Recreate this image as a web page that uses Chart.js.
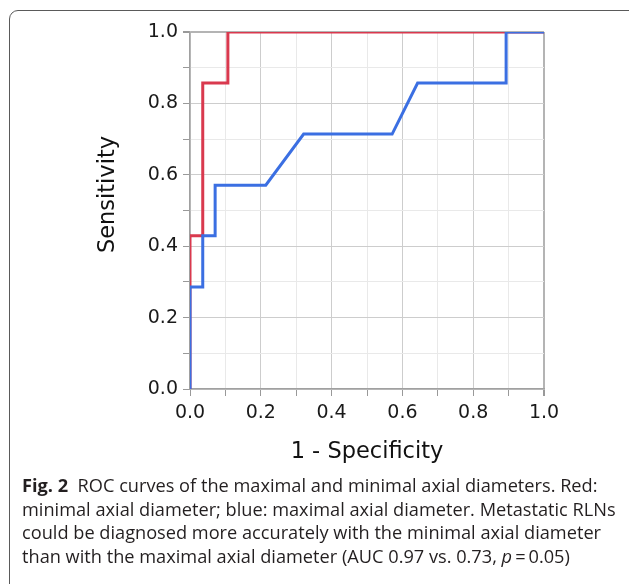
<!DOCTYPE html>
<html>
<head>
<meta charset="utf-8">
<script src="https://cdn.jsdelivr.net/npm/chart.js@4/dist/chart.umd.min.js"></script>
<style>
  html, body { margin: 0; padding: 0; background: #fff; }
  body { width: 629px; height: 584px; position: relative; overflow: hidden; }
  .frame {
    position: absolute; left: 9px; top: 10px; width: 660px; height: 620px;
    border: 1.3px solid #5a5a5a; border-radius: 9px; box-sizing: border-box;
  }
  #wrap { position: absolute; left: 0; top: 0; width: 629px; height: 480px; }
  .caption {
    position: absolute; left: 22px; top: 474px;
    font-family: 'Open Sans', sans-serif; font-size: 18.2px; line-height: 23.7px;
    color: #231f20; white-space: nowrap;
  }
  .caption b { font-weight: 700; }
  .caption .line { display: block; }
</style>
</head>
<body>
<div class="frame"></div>
<div id="wrap"><canvas id="roc"></canvas></div>
<div class="caption" id="cap">
  <span class="line"><b>Fig. 2</b>&nbsp;&nbsp;ROC curves of the maximal and minimal axial diameters. Red:</span>
  <span class="line">minimal axial diameter; blue: maximal axial diameter. Metastatic RLNs</span>
  <span class="line">could be diagnosed more accurately with the minimal axial diameter</span>
  <span class="line">than with the maximal axial diameter (AUC 0.97 vs. 0.73, <i>p</i>&thinsp;=&thinsp;0.05)</span>
</div>
<script>
// ROC data (1 - specificity, sensitivity)
const minimalX = [0, 0, 0.036, 0.036, 0.107, 0.107, 1.0];
const minimalY = [0, 0.429, 0.429, 0.857, 0.857, 1.0, 1.0];
const maximalX = [0, 0, 0.036, 0.036, 0.071, 0.071, 0.214, 0.321, 0.571, 0.643, 0.893, 0.893, 1.0];
const maximalY = [0, 0.286, 0.286, 0.429, 0.429, 0.571, 0.571, 0.714, 0.714, 0.857, 0.857, 1.0, 1.0];

const toPoints = (xs, ys) => xs.map((x, i) => ({ x: x, y: ys[i] }));

// grid: major every 0.2, minor every 0.1
const gridColor = ctx => (ctx.index === 10 ? '#b4b4b4' : (ctx.index % 2 === 0 ? '#cdcdcd' : '#e9e9e9'));
const gridWidth = ctx => (ctx.index === 10 ? 2 : 1);
const tickLabel = v => {
    let k = Math.round(v * 10);
    return k % 2 === 0 ? (k / 10).toFixed(1) : '';
};

// y title drawn slightly above the plot centre, as in the figure
const yTitle = {
    id: 'yTitle',
    afterDraw(chart) {
        const ctx = chart.ctx, a = chart.chartArea;
        ctx.save();
        ctx.translate(a.left - 82, (a.top + a.bottom) / 2 - 16);
        ctx.rotate(-Math.PI / 2);
        ctx.font = "22.5px 'DejaVu Sans', sans-serif";
        ctx.fillStyle = '#111';
        ctx.textAlign = 'center';
        ctx.textBaseline = 'middle';
        ctx.fillText('Sensitivity', 0, 0);
        ctx.restore();
    }
};

Chart.defaults.font.family = "'DejaVu Sans', sans-serif";
Chart.defaults.color = '#1a1a1a';

new Chart(document.getElementById('roc').getContext('2d'), {
    type: 'scatter',
    data: {
        datasets: [
            {
                label: 'Maximal axial diameter',
                data: toPoints(maximalX, maximalY),
                showLine: true, borderColor: '#3b6fe2', borderWidth: 3,
                pointRadius: 0, tension: 0
            },
            {
                label: 'Minimal axial diameter',
                data: toPoints(minimalX, minimalY),
                showLine: true, borderColor: '#d9394e', borderWidth: 3,
                pointRadius: 0, tension: 0
            }
        ]
    },
    options: {
        responsive: true, maintainAspectRatio: false, animation: false,
        layout: { padding: { left: 90, right: 85, top: 32, bottom: 11 } },
        plugins: { legend: { display: false }, tooltip: { enabled: false } },
        scales: {
            x: {
                type: 'linear', min: 0, max: 1,
                afterFit: s => { s.height = 80; },
                ticks: { stepSize: 0.1, autoSkip: false, maxRotation: 0, padding: 6, font: { size: 19 }, callback: tickLabel },
                grid: { color: gridColor, lineWidth: gridWidth, tickColor: '#999', tickLength: 7 },
                border: { color: '#a0a0a0', width: 1.5 },
                title: { display: true, text: '1 - Specificity', color: '#111', padding: { top: 0, bottom: 3 }, font: { family: "'DejaVu Sans', sans-serif", size: 22.5 } }
            },
            y: {
                type: 'linear', min: 0, max: 1,
                afterFit: s => { s.width = 100; },
                ticks: { stepSize: 0.1, autoSkip: false, padding: 5, font: { size: 19 }, callback: tickLabel },
                grid: { color: gridColor, lineWidth: gridWidth, tickColor: '#999', tickLength: 7 },
                border: { color: '#a0a0a0', width: 1.5 }
            }
        }
    },
    plugins: [yTitle]
});
</script>
</body>
</html>
